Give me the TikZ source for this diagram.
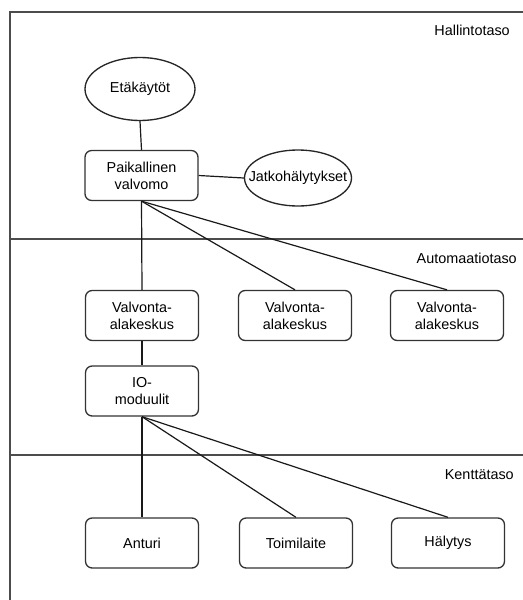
\documentclass[tikz,border=0pt]{standalone}
\usepackage{fontspec}
\setmainfont{Liberation Sans}
\usetikzlibrary{shapes.geometric}
\begin{document}
\begin{tikzpicture}[x=0.75pt,y=-0.75pt,
  box/.style={draw=black!80,line width=1pt,rounded corners=5pt,minimum width=113*0.75pt,minimum height=50*0.75pt,align=center,inner sep=1pt,font=\fontsize{10.8pt}{12.6pt}\selectfont},
  oval/.style={draw=black!85,line width=1pt,ellipse,inner sep=0pt,font=\fontsize{10.8pt}{12.6pt}\selectfont},
  frame/.style={draw=black!70,line width=1.2pt},
  lbl/.style={font=\fontsize{10.8pt}{12.6pt}\selectfont,anchor=base east,inner sep=0pt},
  conn/.style={draw=black!90,line width=0.9pt}]
\useasboundingbox (0,0) rectangle (523,600);
% frame and level lines
\draw[frame] (10,600) -- (10,12) -- (523,12);
\draw[frame] (10,239) -- (523,239);
\draw[frame] (10,455) -- (523,455);
\node[lbl] (l1) at (510,35) {Hallintotaso};
\node[lbl] (l2) at (517,263) {Automaatiotaso};
\node[lbl] (l3) at (514,479) {Kenttätaso};
% nodes
\node[oval,minimum width=110*0.75pt,minimum height=63*0.75pt] (eta) at (140,89) {Etäkäytöt};
\node[box] (pv) at (141.5,175.5) {Paikallinen\\valvomo};
\node[oval,inner xsep=-10pt,minimum width=107*0.75pt,minimum height=56*0.75pt] (jat) at (298,178) {Jatkohälytykset};
\node[box] (v1) at (142,315.5) {Valvonta-\\alakeskus};
\node[box] (v2) at (295,315.5) {Valvonta-\\alakeskus};
\node[box] (v3) at (447,315.5) {Valvonta-\\alakeskus};
\node[box] (io) at (142,391) {IO-\\moduulit};
\node[box] (an) at (142,543) {Anturi};
\node[box] (to) at (296,543) {Toimilaite};
\node[box] (ha) at (448,543) {Hälytys};
% connectors
\draw[conn] (eta.south) -- (pv.north);
\draw[conn] (pv.east) -- (jat.west);
\draw[conn] (pv.south) -- (v1.north);
\draw[conn] (pv.south) -- (v2.north);
\draw[conn] (pv.south) -- (v3.north);
\draw[conn] (v1.south) -- (io.north);
\draw[conn] (io.south) -- (an.north);
\draw[conn] (io.south) -- (to.north);
\draw[conn] (io.south) -- (ha.north);
\end{tikzpicture}
\end{document}
